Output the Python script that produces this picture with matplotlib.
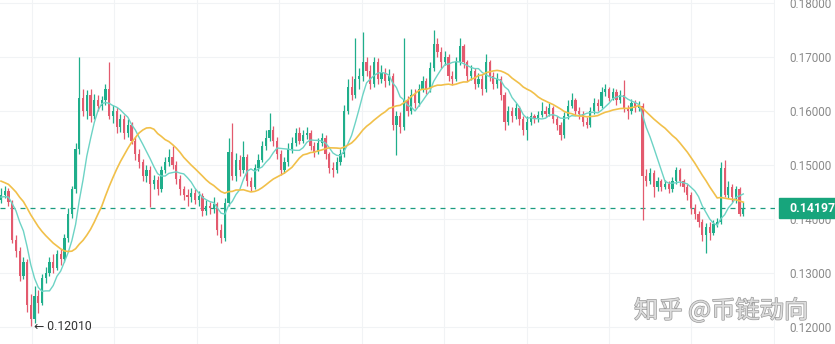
import matplotlib
matplotlib.use("Agg")
import matplotlib.pyplot as plt
import matplotlib.transforms as mtransforms
import matplotlib.patheffects as pe
from matplotlib.patches import Rectangle
import numpy as np
import pandas as pd

# prices below are in units of 0.0001
warmup_close = [1535, 1542, 1528, 1520, 1531, 1516, 1524, 1510, 1518, 1505,
                1512, 1498, 1506, 1492, 1500, 1488, 1495, 1480, 1486, 1472,
                1478, 1462, 1468, 1452, 1446, 1438, 1446, 1432, 1441, 1436]

close = [1445, 1452, 1432, 1362, 1340, 1295, 1320, 1240, 1215, 1258,
         1245, 1290, 1300, 1320, 1310, 1335, 1325, 1365, 1410, 1455,
         1530, 1625, 1600, 1630, 1590, 1620, 1610, 1620, 1640, 1590,
         1600, 1570, 1585, 1560, 1575, 1545, 1520, 1505, 1480, 1490,
         1465, 1472, 1455, 1490, 1505, 1515, 1500, 1475, 1455, 1445,
         1440, 1448, 1435, 1442, 1415, 1425, 1420, 1428, 1380, 1365,
         1430, 1525, 1480, 1510, 1490, 1515, 1470, 1460, 1495, 1510,
         1535, 1550, 1565, 1545, 1520, 1490, 1505, 1530, 1540, 1560,
         1545, 1555, 1560, 1535, 1525, 1540, 1550, 1520, 1495, 1490,
         1505, 1520, 1600, 1645, 1630, 1660, 1665, 1690, 1675, 1650,
         1690, 1660, 1670, 1655, 1665, 1575, 1590, 1570, 1620, 1600,
         1630, 1615, 1640, 1655, 1640, 1680, 1725, 1710, 1690, 1700,
         1665, 1660, 1690, 1720, 1690, 1665, 1675, 1650, 1660, 1640,
         1690, 1665, 1650, 1660, 1630, 1580, 1600, 1590, 1605, 1585,
         1565, 1580, 1590, 1585, 1592, 1600, 1595, 1605, 1585, 1575,
         1555, 1590, 1610, 1620, 1600, 1595, 1580, 1575, 1600, 1615,
         1610, 1635, 1640, 1625, 1635, 1620, 1630, 1605, 1600, 1615,
         1605, 1610, 1480, 1470, 1485, 1460, 1470, 1460, 1465, 1455,
         1470, 1490, 1470, 1460, 1445, 1420, 1410, 1395, 1370, 1385,
         1375, 1390, 1395, 1495, 1445, 1460, 1440, 1455, 1410, 1419.7]

high = [1458, 1462, 1458, 1436, 1370, 1348, 1330, 1325, 1262, 1275,
        1268, 1298, 1312, 1330, 1335, 1342, 1345, 1372, 1420, 1462,
        1540, 1700, 1640, 1638, 1640, 1632, 1630, 1628, 1650, 1690,
        1612, 1608, 1595, 1592, 1585, 1580, 1552, 1530, 1512, 1500,
        1498, 1482, 1480, 1498, 1515, 1530, 1535, 1508, 1482, 1462,
        1455, 1458, 1455, 1452, 1448, 1435, 1432, 1440, 1432, 1390,
        1438, 1550, 1578, 1522, 1518, 1545, 1520, 1478, 1502, 1520,
        1545, 1565, 1596, 1572, 1552, 1528, 1515, 1540, 1552, 1568,
        1570, 1565, 1570, 1565, 1542, 1550, 1560, 1555, 1525, 1505,
        1515, 1530, 1612, 1660, 1665, 1735, 1680, 1746, 1700, 1685,
        1700, 1698, 1685, 1680, 1678, 1670, 1600, 1598, 1735, 1628,
        1640, 1640, 1650, 1665, 1662, 1690, 1750, 1735, 1718, 1712,
        1705, 1675, 1700, 1735, 1725, 1695, 1685, 1680, 1670, 1668,
        1705, 1695, 1672, 1670, 1665, 1635, 1610, 1608, 1615, 1610,
        1590, 1590, 1598, 1595, 1600, 1617, 1610, 1615, 1610, 1590,
        1580, 1598, 1620, 1633, 1625, 1608, 1600, 1588, 1608, 1625,
        1622, 1645, 1650, 1645, 1642, 1640, 1638, 1657, 1612, 1622,
        1620, 1618, 1615, 1492, 1495, 1490, 1478, 1475, 1472, 1470,
        1478, 1496, 1494, 1475, 1465, 1450, 1428, 1415, 1400, 1392,
        1395, 1398, 1402, 1505, 1510, 1470, 1465, 1462, 1460, 1432]

low = [1430, 1438, 1425, 1355, 1330, 1285, 1288, 1228, 1201, 1208,
       1225, 1240, 1282, 1295, 1300, 1305, 1315, 1320, 1358, 1402,
       1448, 1520, 1590, 1585, 1580, 1585, 1600, 1602, 1612, 1585,
       1578, 1560, 1562, 1548, 1552, 1538, 1510, 1495, 1470, 1468,
       1422, 1455, 1445, 1450, 1485, 1498, 1492, 1465, 1445, 1435,
       1425, 1432, 1428, 1425, 1405, 1408, 1410, 1412, 1370, 1356,
       1360, 1425, 1472, 1470, 1480, 1485, 1462, 1452, 1455, 1488,
       1505, 1528, 1545, 1535, 1512, 1481, 1485, 1498, 1522, 1535,
       1538, 1540, 1548, 1528, 1515, 1520, 1535, 1512, 1485, 1478,
       1485, 1500, 1515, 1595, 1620, 1625, 1640, 1655, 1665, 1640,
       1645, 1650, 1652, 1645, 1648, 1565, 1519, 1560, 1565, 1590,
       1595, 1605, 1610, 1635, 1632, 1635, 1675, 1700, 1680, 1685,
       1655, 1648, 1655, 1685, 1680, 1655, 1658, 1640, 1645, 1630,
       1635, 1655, 1640, 1642, 1620, 1565, 1575, 1580, 1585, 1575,
       1555, 1546, 1575, 1578, 1580, 1588, 1588, 1590, 1578, 1565,
       1546, 1550, 1585, 1605, 1592, 1585, 1572, 1568, 1570, 1595,
       1600, 1605, 1628, 1618, 1620, 1612, 1615, 1598, 1585, 1595,
       1598, 1600, 1398, 1462, 1465, 1440, 1452, 1452, 1455, 1448,
       1450, 1465, 1462, 1450, 1435, 1410, 1400, 1385, 1360, 1337,
       1362, 1370, 1385, 1390, 1440, 1438, 1432, 1430, 1405, 1405]

price_ticks = [0.12, 0.13, 0.14, 0.15, 0.16, 0.17, 0.18]

GREEN = "#1fae8b"
RED = "#e35a6e"
TEAL = "#6dd3c5"
YELLOW = "#f1c04a"
TAG = "#17a57c"

unit = 1e-4
c = np.array(close) * unit
h = np.array(high) * unit
l = np.array(low) * unit
# each candle opens where the previous one closed
o = np.concatenate([[warmup_close[-1]], close[:-1]]) * unit

series = pd.Series(np.concatenate([warmup_close, close]) * unit)
ma_fast = series.rolling(7).mean().to_numpy()[-len(c):]
ma_slow = series.rolling(21).mean().to_numpy()[-len(c):]

fig = plt.figure(figsize=(8.35, 3.44), dpi=100)
ax = fig.add_axes([0, 0, 775 / 835, 1])

x = np.arange(len(c))
colors = np.where(c >= o, GREEN, RED)
ax.vlines(x, l, h, colors=colors, lw=0.9, zorder=3)
ax.bar(x, np.maximum(np.abs(c - o), 0.00008), bottom=np.minimum(o, c),
       width=0.6, color=colors, linewidth=0, zorder=3)
ax.plot(x, ma_fast, color=TEAL, lw=1.0, zorder=4)
ax.plot(x, ma_slow, color=YELLOW, lw=1.2, zorder=4)

last = c[-1]
ax.axhline(last, color="#1a9c80", lw=0.9, ls=(0, (4, 4)), zorder=2)

ax.set_xlim(-0.27, 207.5)
ax.set_ylim(0.11685, 0.18056)
for s in ax.spines.values():
    s.set_visible(False)

ax.set_xticks(np.arange(8.3, 208, 22.1))
ax.set_xticklabels([])
ax.set_yticks(price_ticks)
ax.set_yticklabels([f"{v:.5f}" for v in price_ticks], family="Roboto")
ax.yaxis.tick_right()
ax.tick_params(axis="both", length=0)
ax.tick_params(axis="y", pad=10.5, labelsize=8.4, labelcolor="#8a8a8a")
ax.grid(True, color="#f1f3f5", lw=0.8, zorder=0)

# last price tag on the price scale
blend = mtransforms.blended_transform_factory(ax.transAxes, ax.transData)
ax.add_patch(Rectangle((779 / 775, last - 10 / 5400), 56 / 775, 20 / 5400,
                       transform=blend, color=TAG, clip_on=False, zorder=10))
ax.text(789 / 775, last, f"{last:.5f}", transform=blend, ha="left",
        va="center", color="white", fontsize=8.8, fontweight="bold",
        family="Roboto", clip_on=False, zorder=11)

# lowest low marker
i_low = int(np.argmin(l))
ax.annotate(f"← {l[i_low]:.5f}", xy=(i_low, l[i_low]), xytext=(2, 0),
            textcoords="offset points", ha="left", va="center",
            fontsize=8.8, color="#333333", family=["Roboto", "DejaVu Sans"],
            zorder=6)

fig.text(634 / 835, 1 - 311 / 344, "知乎 @币链动向", ha="left", va="center",
         fontsize=17.5, color="#dcdcdc",
         family=["Noto Sans CJK SC", "DejaVu Sans"],
         path_effects=[pe.withStroke(linewidth=1.0, foreground="#9c9c9c")],
         zorder=20)

fig.savefig("out.png", dpi=100)
